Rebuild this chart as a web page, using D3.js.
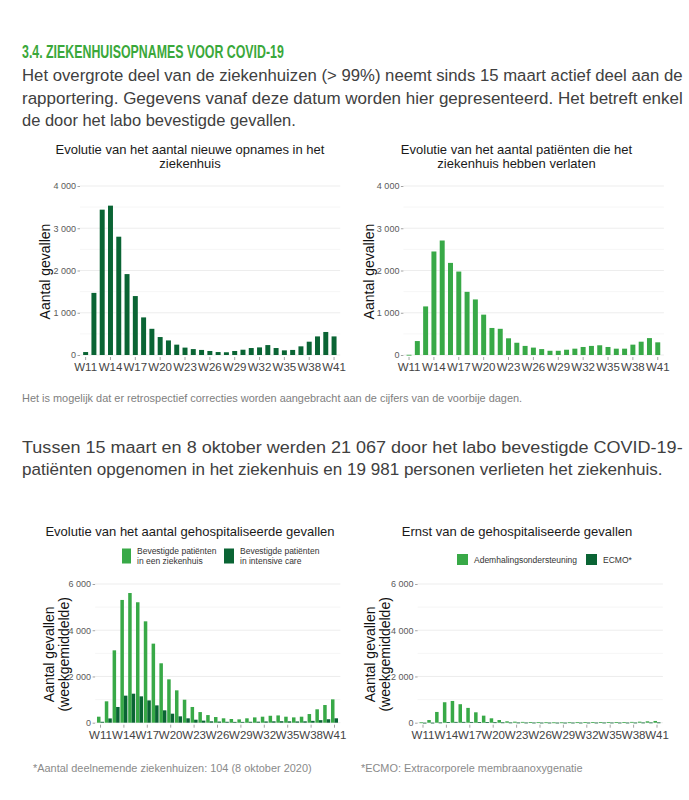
<!DOCTYPE html>
<html>
<head>
<meta charset="utf-8">
<script src="https://cdn.jsdelivr.net/npm/d3@7"></script>
<style>
body{margin:0;background:#fff}
</style>
</head>
<body>
<div id="viz"></div>
<script>
// data per week (weekgemiddelde / weektotaal), gelezen uit de grafiek
const weeks = ["W11","W12","W13","W14","W15","W16","W17","W18","W19","W20","W21","W22","W23","W24","W25","W26",
  "W27","W28","W29","W30","W31","W32","W33","W34","W35","W36","W37","W38","W39","W40","W41"];
const xTickLabels = ["W11","W14","W17","W20","W23","W26","W29","W32","W35","W38","W41"];

const nieuweOpnames = [70,1470,3440,3535,2800,1915,1395,890,620,425,345,245,175,140,120,95,70,65,95,125,165,180,235,165,110,120,205,315,440,545,440];
const verlaten = [5,330,1150,2450,2710,2180,1975,1495,1315,955,640,620,395,290,215,175,140,100,100,125,150,190,215,230,190,150,150,245,315,400,300];
const gehospitaliseerd = [260,925,3130,5310,5610,5210,4385,3420,2570,1875,1400,995,680,460,330,245,190,160,145,190,230,260,300,315,260,230,260,375,580,765,1010];
const intensieveZorg = [40,185,680,1170,1255,1140,965,750,535,390,275,190,130,90,60,50,40,35,35,40,45,55,60,65,60,55,60,80,110,150,190];
const ademhaling = [15,115,465,885,940,800,640,450,305,190,115,60,45,35,25,20,18,15,15,18,20,25,30,30,28,25,28,35,45,60,75];
const ecmo = [0,2,10,25,35,35,32,28,22,18,14,10,8,6,5,4,4,3,3,4,4,5,5,6,6,5,5,6,8,10,12];

const topTicks = [0,1000,2000,3000,4000];
const topTickLabels = ["0","1 000","2 000","3 000","4 000"];
const topMinor = [500,1500,2500,3500];
const bottomTicks = [0,2000,4000,6000];
const bottomTickLabels = ["0","2 000","4 000","6 000"];
const bottomMinor = [1000,3000,5000];

const LIGHT = "#38a947", DARK = "#0a6434";
const NARROW = "'Liberation Sans Narrow','Arial Narrow','Liberation Sans',Arial,sans-serif";
const SANS = "'Liberation Sans',Arial,sans-serif";

const svg = d3.select("#viz").append("svg")
  .attr("width", 689).attr("height", 800)
  .style("display","block");

// tekstregel met vaste breedte: meten en horizontaal schalen (smal lettertype zoals in het rapport)
function line(txt, x, y, size, len, opt = {}) {
  const t = svg.append("text")
    .attr("x", 0).attr("y", 0)
    .style("font-family", opt.family || NARROW)
    .style("font-size", size + "px")
    .style("font-weight", opt.weight || "normal")
    .attr("fill", opt.fill || "#404040")
    .text(txt);
  const w = t.node().getComputedTextLength();
  const sx = len ? len / w : 1;
  t.attr("transform", `translate(${x},${y}) scale(${sx},1)`);
  return t;
}

line("3.4. ZIEKENHUISOPNAMES VOOR COVID-19", 22, 58, 18, 262, {weight: "bold", fill: "#3aa83a"});
line("Het overgrote deel van de ziekenhuizen (> 99%) neemt sinds 15 maart actief deel aan de", 22, 81, 17, 661);
line("rapportering. Gegevens vanaf deze datum worden hier gepresenteerd. Het betreft enkel", 22, 103.5, 17, 661);
line("de door het labo bevestigde gevallen.", 22, 126, 17, 274);
line("Het is mogelijk dat er retrospectief correcties worden aangebracht aan de cijfers van de voorbije dagen.", 22, 402, 10, 501, {fill: "#808080"});
line("Tussen 15 maart en 8 oktober werden 21 067 door het labo bevestigde COVID-19-", 22, 453, 17, 661);
line("patiënten opgenomen in het ziekenhuis en 19 981 personen verlieten het ziekenhuis.", 22, 475, 17, 641);
line("*Aantal deelnemende ziekenhuizen: 104 (8 oktober 2020)", 33, 772, 10.5, 279, {fill: "#8a8a8a", family: SANS});
line("*ECMO: Extracorporele membraanoxygenatie", 361, 772, 10.5, 222, {fill: "#8a8a8a", family: SANS});

function chart(cfg) {
  const g = svg.append("g");
  const grouped = cfg.series.length > 1;
  const x = d3.scaleBand().domain(weeks)
    .range([cfg.x0, cfg.x1])
    .paddingInner(grouped ? 0.1 : 0.4)
    .paddingOuter(grouped ? 0.05 : 0.2);
  const y = d3.scaleLinear().domain([0, d3.max(cfg.ticks)]).range([cfg.yBottom, cfg.yTop]);

  // titel
  cfg.title.forEach((t, i) => {
    g.append("text").attr("x", cfg.titleX).attr("y", cfg.titleY + i * 14.5)
      .attr("text-anchor", "middle").attr("dominant-baseline", "central")
      .style("font-family", SANS).style("font-size", "13px").attr("fill", "#1a1a1a")
      .text(t);
  });

  // rasterlijnen
  g.selectAll(".minor").data(cfg.minor).join("line")
    .attr("x1", cfg.x0 - 1.5).attr("x2", cfg.x1 + 2)
    .attr("y1", d => y(d)).attr("y2", d => y(d))
    .attr("stroke", "#f4f4f4").attr("stroke-width", 0.8);
  g.selectAll(".major").data(cfg.ticks).join("line")
    .attr("x1", cfg.x0 - 1.5).attr("x2", cfg.x1 + 2)
    .attr("y1", d => y(d)).attr("y2", d => y(d))
    .attr("stroke", "#ebebeb").attr("stroke-width", 0.9);

  // y-as
  const ya = g.append("g").attr("transform", `translate(${cfg.x0 - 1.5},0)`)
    .call(d3.axisLeft(y).tickValues(cfg.ticks)
      .tickFormat((d, i) => cfg.tickLabels[i]).tickSize(2.5).tickPadding(1.5));
  ya.select(".domain").remove();
  ya.selectAll("line").attr("stroke", "#666").attr("stroke-width", 0.6);
  ya.selectAll("text").style("font-family", SANS).style("font-size", "9px").attr("fill", "#5a5a5a");

  // x-as
  const xa = g.append("g").attr("transform", `translate(0,${cfg.yBottom + 2})`)
    .call(d3.axisBottom(x).tickValues(xTickLabels).tickSize(3).tickPadding(3));
  xa.select(".domain").remove();
  xa.selectAll("line").attr("stroke", "#666").attr("stroke-width", 0.6);
  xa.selectAll("text").style("font-family", SANS).style("font-size", "11.5px").attr("fill", "#444");

  // y-astitel
  cfg.yTitle.forEach((t, i) => {
    g.append("text")
      .attr("transform", `translate(${cfg.yTitleX + i * 15},${(cfg.yBottom + cfg.yTop) / 2 + 1}) rotate(-90)`)
      .attr("text-anchor", "middle").attr("dominant-baseline", "central")
      .style("font-family", SANS).style("font-size", "14px").attr("fill", "#111")
      .text(t);
  });

  // staven
  const sub = d3.scaleBand().domain(d3.range(cfg.series.length)).range([0, x.bandwidth()]);
  cfg.series.forEach((s, si) => {
    g.append("g").selectAll("rect").data(s.values).join("rect")
      .attr("x", (d, i) => x(weeks[i]) + sub(si))
      .attr("width", sub.bandwidth())
      .attr("y", d => y(d))
      .attr("height", d => Math.max(0.8, y(0) - y(d)))
      .attr("fill", s.color);
  });

  // legende
  if (cfg.legend) {
    cfg.legend.forEach(l => {
      g.append("rect").attr("x", l.x).attr("y", l.y - l.h / 2).attr("width", l.w).attr("height", l.h)
        .attr("fill", l.color);
      l.text.forEach((t, i) => {
        g.append("text").attr("x", l.x + l.w + 6)
          .attr("y", l.y + (i - (l.text.length - 1) / 2) * 10.5)
          .attr("dominant-baseline", "central")
          .style("font-family", SANS).style("font-size", "8.5px").attr("fill", "#333")
          .text(t);
      });
    });
  }
}

chart({
  title: ["Evolutie van het aantal nieuwe opnames in het", "ziekenhuis"],
  titleX: 190, titleY: 149,
  x0: 81.5, x1: 338.2, yBottom: 355, yTop: 186,
  ticks: topTicks, tickLabels: topTickLabels, minor: topMinor,
  yTitle: ["Aantal gevallen"], yTitleX: 45,
  series: [{values: nieuweOpnames, color: DARK}]
});

chart({
  title: ["Evolutie van het aantal patiënten die het", "ziekenhuis hebben verlaten"],
  titleX: 516.5, titleY: 149,
  x0: 404.9, x1: 661.9, yBottom: 355, yTop: 186,
  ticks: topTicks, tickLabels: topTickLabels, minor: topMinor,
  yTitle: ["Aantal gevallen"], yTitleX: 369,
  series: [{values: verlaten, color: LIGHT}]
});

chart({
  title: ["Evolutie van het aantal gehospitaliseerde gevallen"],
  titleX: 190, titleY: 531.5,
  x0: 96.6, x1: 338.4, yBottom: 722.7, yTop: 584,
  ticks: bottomTicks, tickLabels: bottomTickLabels, minor: bottomMinor,
  yTitle: ["Aantal gevallen", "(weekgemiddelde)"], yTitleX: 49,
  series: [{values: gehospitaliseerd, color: LIGHT}, {values: intensieveZorg, color: DARK}],
  legend: [
    {x: 122, y: 556, w: 9, h: 15, color: LIGHT, text: ["Bevestigde patiënten", "in een ziekenhuis"]},
    {x: 224, y: 556, w: 10, h: 15, color: DARK, text: ["Bevestigde patiënten", "in intensive care"]}
  ]
});

chart({
  title: ["Ernst van de gehospitaliseerde gevallen"],
  titleX: 517, titleY: 531.5,
  x0: 419.1, x1: 660.9, yBottom: 722.7, yTop: 584,
  ticks: bottomTicks, tickLabels: bottomTickLabels, minor: bottomMinor,
  yTitle: ["Aantal gevallen", "(weekgemiddelde)"], yTitleX: 370,
  series: [{values: ademhaling, color: LIGHT}, {values: ecmo, color: DARK}],
  legend: [
    {x: 457, y: 559.5, w: 11, h: 11, color: LIGHT, text: ["Ademhalingsondersteuning"]},
    {x: 586, y: 559.5, w: 11, h: 11, color: DARK, text: ["ECMO*"]}
  ]
});
</script>
</body>
</html>
